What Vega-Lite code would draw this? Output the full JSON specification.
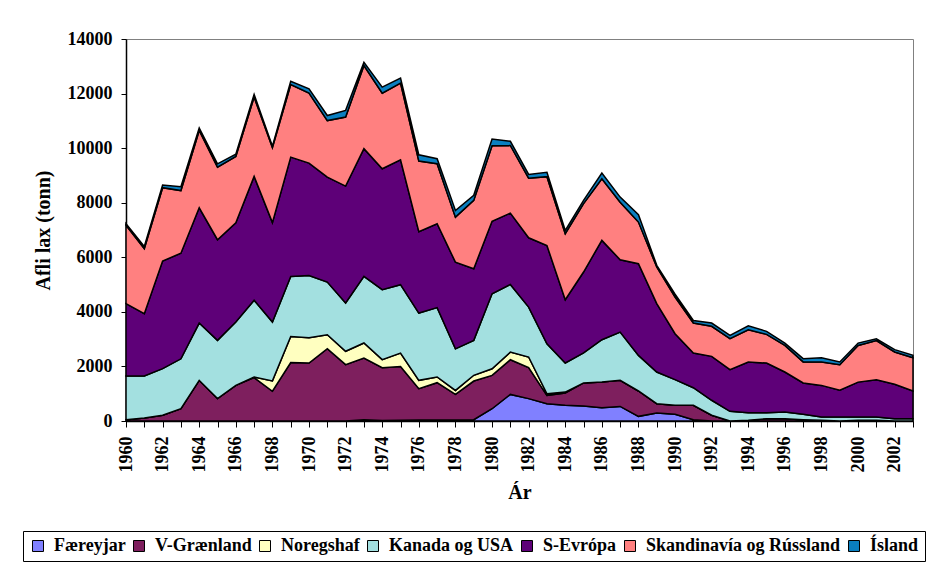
{
  "$schema": "https://vega.github.io/schema/vega-lite/v6.json",
  "width": 787,
  "height": 382,
  "autosize": "none",
  "padding": {"left": 126, "top": 39, "right": 17, "bottom": 143},
  "background": "white",
  "config": {
    "font": "Liberation Serif",
    "view": {"stroke": "#808080", "strokeWidth": 1},
    "axis": {
      "labelFont": "Liberation Serif",
      "labelFontWeight": "bold",
      "labelFontSize": 18,
      "labelColor": "black",
      "titleFont": "Liberation Serif",
      "titleFontWeight": "bold",
      "titleFontSize": 20,
      "titleColor": "black",
      "domainColor": "black",
      "domainWidth": 1.5,
      "tickColor": "black",
      "tickWidth": 1,
      "grid": false
    },
    "legend": {
      "labelFont": "Liberation Serif",
      "labelFontWeight": "bold",
      "labelFontSize": 18,
      "labelColor": "black",
      "labelLimit": 400
    }
  },
  "datasets": {
    "rank": [
      {"series": "Færeyjar", "rank": 1},
      {"series": "V-Grænland", "rank": 2},
      {"series": "Noregshaf", "rank": 3},
      {"series": "Kanada og USA", "rank": 4},
      {"series": "S-Evrópa", "rank": 5},
      {"series": "Skandinavía og Rússland", "rank": 6},
      {"series": "Ísland", "rank": 7}
    ]
  },
  "data": {"values": [
    {"year":1960,"series":"Færeyjar","value":0},{"year":1960,"series":"V-Grænland","value":50},{"year":1960,"series":"Noregshaf","value":0},{"year":1960,"series":"Kanada og USA","value":1600},{"year":1960,"series":"S-Evrópa","value":2650},{"year":1960,"series":"Skandinavía og Rússland","value":2870},{"year":1960,"series":"Ísland","value":60},
    {"year":1961,"series":"Færeyjar","value":0},{"year":1961,"series":"V-Grænland","value":110},{"year":1961,"series":"Noregshaf","value":0},{"year":1961,"series":"Kanada og USA","value":1540},{"year":1961,"series":"S-Evrópa","value":2285},{"year":1961,"series":"Skandinavía og Rússland","value":2380},{"year":1961,"series":"Ísland","value":85},
    {"year":1962,"series":"Færeyjar","value":0},{"year":1962,"series":"V-Grænland","value":210},{"year":1962,"series":"Noregshaf","value":0},{"year":1962,"series":"Kanada og USA","value":1710},{"year":1962,"series":"S-Evrópa","value":3945},{"year":1962,"series":"Skandinavía og Rússland","value":2685},{"year":1962,"series":"Ísland","value":100},
    {"year":1963,"series":"Færeyjar","value":0},{"year":1963,"series":"V-Grænland","value":450},{"year":1963,"series":"Noregshaf","value":0},{"year":1963,"series":"Kanada og USA","value":1830},{"year":1963,"series":"S-Evrópa","value":3870},{"year":1963,"series":"Skandinavía og Rússland","value":2295},{"year":1963,"series":"Ísland","value":140},
    {"year":1964,"series":"Færeyjar","value":0},{"year":1964,"series":"V-Grænland","value":1490},{"year":1964,"series":"Noregshaf","value":0},{"year":1964,"series":"Kanada og USA","value":2100},{"year":1964,"series":"S-Evrópa","value":4225},{"year":1964,"series":"Skandinavía og Rússland","value":2835},{"year":1964,"series":"Ísland","value":85},
    {"year":1965,"series":"Færeyjar","value":0},{"year":1965,"series":"V-Grænland","value":820},{"year":1965,"series":"Noregshaf","value":0},{"year":1965,"series":"Kanada og USA","value":2135},{"year":1965,"series":"S-Evrópa","value":3690},{"year":1965,"series":"Skandinavía og Rússland","value":2660},{"year":1965,"series":"Ísland","value":120},
    {"year":1966,"series":"Færeyjar","value":0},{"year":1966,"series":"V-Grænland","value":1305},{"year":1966,"series":"Noregshaf","value":0},{"year":1966,"series":"Kanada og USA","value":2320},{"year":1966,"series":"S-Evrópa","value":3640},{"year":1966,"series":"Skandinavía og Rússland","value":2430},{"year":1966,"series":"Ísland","value":85},
    {"year":1967,"series":"Færeyjar","value":0},{"year":1967,"series":"V-Grænland","value":1590},{"year":1967,"series":"Noregshaf","value":25},{"year":1967,"series":"Kanada og USA","value":2810},{"year":1967,"series":"S-Evrópa","value":4540},{"year":1967,"series":"Skandinavía og Rússland","value":2905},{"year":1967,"series":"Ísland","value":100},
    {"year":1968,"series":"Færeyjar","value":0},{"year":1968,"series":"V-Grænland","value":1090},{"year":1968,"series":"Noregshaf","value":380},{"year":1968,"series":"Kanada og USA","value":2160},{"year":1968,"series":"S-Evrópa","value":3640},{"year":1968,"series":"Skandinavía og Rússland","value":2750},{"year":1968,"series":"Ísland","value":50},
    {"year":1969,"series":"Færeyjar","value":0},{"year":1969,"series":"V-Grænland","value":2140},{"year":1969,"series":"Noregshaf","value":960},{"year":1969,"series":"Kanada og USA","value":2200},{"year":1969,"series":"S-Evrópa","value":4370},{"year":1969,"series":"Skandinavía og Rússland","value":2660},{"year":1969,"series":"Ísland","value":120},
    {"year":1970,"series":"Færeyjar","value":0},{"year":1970,"series":"V-Grænland","value":2125},{"year":1970,"series":"Noregshaf","value":925},{"year":1970,"series":"Kanada og USA","value":2285},{"year":1970,"series":"S-Evrópa","value":4115},{"year":1970,"series":"Skandinavía og Rússland","value":2565},{"year":1970,"series":"Ísland","value":160},
    {"year":1971,"series":"Færeyjar","value":0},{"year":1971,"series":"V-Grænland","value":2650},{"year":1971,"series":"Noregshaf","value":510},{"year":1971,"series":"Kanada og USA","value":1930},{"year":1971,"series":"S-Evrópa","value":3845},{"year":1971,"series":"Skandinavía og Rússland","value":2075},{"year":1971,"series":"Ísland","value":185},
    {"year":1972,"series":"Færeyjar","value":0},{"year":1972,"series":"V-Grænland","value":2065},{"year":1972,"series":"Noregshaf","value":490},{"year":1972,"series":"Kanada og USA","value":1770},{"year":1972,"series":"S-Evrópa","value":4285},{"year":1972,"series":"Skandinavía og Rússland","value":2530},{"year":1972,"series":"Ísland","value":245},
    {"year":1973,"series":"Færeyjar","value":50},{"year":1973,"series":"V-Grænland","value":2260},{"year":1973,"series":"Noregshaf","value":550},{"year":1973,"series":"Kanada og USA","value":2440},{"year":1973,"series":"S-Evrópa","value":4680},{"year":1973,"series":"Skandinavía og Rússland","value":3050},{"year":1973,"series":"Ísland","value":120},
    {"year":1974,"series":"Færeyjar","value":20},{"year":1974,"series":"V-Grænland","value":1935},{"year":1974,"series":"Noregshaf","value":295},{"year":1974,"series":"Kanada og USA","value":2565},{"year":1974,"series":"S-Evrópa","value":4430},{"year":1974,"series":"Skandinavía og Rússland","value":2770},{"year":1974,"series":"Ísland","value":220},
    {"year":1975,"series":"Færeyjar","value":30},{"year":1975,"series":"V-Grænland","value":1970},{"year":1975,"series":"Noregshaf","value":490},{"year":1975,"series":"Kanada og USA","value":2505},{"year":1975,"series":"S-Evrópa","value":4580},{"year":1975,"series":"Skandinavía og Rússland","value":2810},{"year":1975,"series":"Ísland","value":180},
    {"year":1976,"series":"Færeyjar","value":40},{"year":1976,"series":"V-Grænland","value":1145},{"year":1976,"series":"Noregshaf","value":305},{"year":1976,"series":"Kanada og USA","value":2465},{"year":1976,"series":"S-Evrópa","value":2980},{"year":1976,"series":"Skandinavía og Rússland","value":2590},{"year":1976,"series":"Ísland","value":230},
    {"year":1977,"series":"Færeyjar","value":40},{"year":1977,"series":"V-Grænland","value":1365},{"year":1977,"series":"Noregshaf","value":210},{"year":1977,"series":"Kanada og USA","value":2540},{"year":1977,"series":"S-Evrópa","value":3075},{"year":1977,"series":"Skandinavía og Rússland","value":2200},{"year":1977,"series":"Ísland","value":185},
    {"year":1978,"series":"Færeyjar","value":40},{"year":1978,"series":"V-Grænland","value":935},{"year":1978,"series":"Noregshaf","value":145},{"year":1978,"series":"Kanada og USA","value":1525},{"year":1978,"series":"S-Evrópa","value":3175},{"year":1978,"series":"Skandinavía og Rússland","value":1650},{"year":1978,"series":"Ísland","value":245},
    {"year":1979,"series":"Færeyjar","value":50},{"year":1979,"series":"V-Grænland","value":1415},{"year":1979,"series":"Noregshaf","value":210},{"year":1979,"series":"Kanada og USA","value":1280},{"year":1979,"series":"S-Evrópa","value":2625},{"year":1979,"series":"Skandinavía og Rússland","value":2505},{"year":1979,"series":"Ísland","value":185},
    {"year":1980,"series":"Færeyjar","value":450},{"year":1980,"series":"V-Grænland","value":1220},{"year":1980,"series":"Noregshaf","value":245},{"year":1980,"series":"Kanada og USA","value":2745},{"year":1980,"series":"S-Evrópa","value":2660},{"year":1980,"series":"Skandinavía og Rússland","value":2770},{"year":1980,"series":"Ísland","value":245},
    {"year":1981,"series":"Færeyjar","value":975},{"year":1981,"series":"V-Grænland","value":1270},{"year":1981,"series":"Noregshaf","value":280},{"year":1981,"series":"Kanada og USA","value":2480},{"year":1981,"series":"S-Evrópa","value":2615},{"year":1981,"series":"Skandinavía og Rússland","value":2480},{"year":1981,"series":"Ísland","value":150},
    {"year":1982,"series":"Færeyjar","value":820},{"year":1982,"series":"V-Grænland","value":1135},{"year":1982,"series":"Noregshaf","value":390},{"year":1982,"series":"Kanada og USA","value":1830},{"year":1982,"series":"S-Evrópa","value":2540},{"year":1982,"series":"Skandinavía og Rússland","value":2185},{"year":1982,"series":"Ísland","value":135},
    {"year":1983,"series":"Færeyjar","value":635},{"year":1983,"series":"V-Grænland","value":305},{"year":1983,"series":"Noregshaf","value":60},{"year":1983,"series":"Kanada og USA","value":1830},{"year":1983,"series":"S-Evrópa","value":3600},{"year":1983,"series":"Skandinavía og Rússland","value":2525},{"year":1983,"series":"Ísland","value":160},
    {"year":1984,"series":"Færeyjar","value":575},{"year":1984,"series":"V-Grænland","value":450},{"year":1984,"series":"Noregshaf","value":35},{"year":1984,"series":"Kanada og USA","value":1065},{"year":1984,"series":"S-Evrópa","value":2320},{"year":1984,"series":"Skandinavía og Rússland","value":2420},{"year":1984,"series":"Ísland","value":120},
    {"year":1985,"series":"Færeyjar","value":550},{"year":1985,"series":"V-Grænland","value":845},{"year":1985,"series":"Noregshaf","value":0},{"year":1985,"series":"Kanada og USA","value":1100},{"year":1985,"series":"S-Evrópa","value":2965},{"year":1985,"series":"Skandinavía og Rússland","value":2505},{"year":1985,"series":"Ísland","value":120},
    {"year":1986,"series":"Færeyjar","value":490},{"year":1986,"series":"V-Grænland","value":940},{"year":1986,"series":"Noregshaf","value":0},{"year":1986,"series":"Kanada og USA","value":1550},{"year":1986,"series":"S-Evrópa","value":3640},{"year":1986,"series":"Skandinavía og Rússland","value":2260},{"year":1986,"series":"Ísland","value":205},
    {"year":1987,"series":"Færeyjar","value":535},{"year":1987,"series":"V-Grænland","value":955},{"year":1987,"series":"Noregshaf","value":0},{"year":1987,"series":"Kanada og USA","value":1770},{"year":1987,"series":"S-Evrópa","value":2650},{"year":1987,"series":"Skandinavía og Rússland","value":2110},{"year":1987,"series":"Ísland","value":185},
    {"year":1988,"series":"Færeyjar","value":170},{"year":1988,"series":"V-Grænland","value":930},{"year":1988,"series":"Noregshaf","value":0},{"year":1988,"series":"Kanada og USA","value":1305},{"year":1988,"series":"S-Evrópa","value":3360},{"year":1988,"series":"Skandinavía og Rússland","value":1525},{"year":1988,"series":"Ísland","value":270},
    {"year":1989,"series":"Færeyjar","value":295},{"year":1989,"series":"V-Grænland","value":340},{"year":1989,"series":"Noregshaf","value":0},{"year":1989,"series":"Kanada og USA","value":1160},{"year":1989,"series":"S-Evrópa","value":2505},{"year":1989,"series":"Skandinavía og Rússland","value":1345},{"year":1989,"series":"Ísland","value":60},
    {"year":1990,"series":"Færeyjar","value":245},{"year":1990,"series":"V-Grænland","value":330},{"year":1990,"series":"Noregshaf","value":0},{"year":1990,"series":"Kanada og USA","value":940},{"year":1990,"series":"S-Evrópa","value":1685},{"year":1990,"series":"Skandinavía og Rússland","value":1345},{"year":1990,"series":"Ísland","value":100},
    {"year":1991,"series":"Færeyjar","value":50},{"year":1991,"series":"V-Grænland","value":525},{"year":1991,"series":"Noregshaf","value":0},{"year":1991,"series":"Kanada og USA","value":645},{"year":1991,"series":"S-Evrópa","value":1270},{"year":1991,"series":"Skandinavía og Rússland","value":1100},{"year":1991,"series":"Ísland","value":95},
    {"year":1992,"series":"Færeyjar","value":0},{"year":1992,"series":"V-Grænland","value":210},{"year":1992,"series":"Noregshaf","value":0},{"year":1992,"series":"Kanada og USA","value":550},{"year":1992,"series":"S-Evrópa","value":1610},{"year":1992,"series":"Skandinavía og Rússland","value":1100},{"year":1992,"series":"Ísland","value":120},
    {"year":1993,"series":"Færeyjar","value":0},{"year":1993,"series":"V-Grænland","value":0},{"year":1993,"series":"Noregshaf","value":0},{"year":1993,"series":"Kanada og USA","value":355},{"year":1993,"series":"S-Evrópa","value":1525},{"year":1993,"series":"Skandinavía og Rússland","value":1135},{"year":1993,"series":"Ísland","value":120},
    {"year":1994,"series":"Færeyjar","value":0},{"year":1994,"series":"V-Grænland","value":25},{"year":1994,"series":"Noregshaf","value":0},{"year":1994,"series":"Kanada og USA","value":280},{"year":1994,"series":"S-Evrópa","value":1855},{"year":1994,"series":"Skandinavía og Rússland","value":1185},{"year":1994,"series":"Ísland","value":145},
    {"year":1995,"series":"Færeyjar","value":0},{"year":1995,"series":"V-Grænland","value":85},{"year":1995,"series":"Noregshaf","value":0},{"year":1995,"series":"Kanada og USA","value":220},{"year":1995,"series":"S-Evrópa","value":1820},{"year":1995,"series":"Skandinavía og Rússland","value":1050},{"year":1995,"series":"Ísland","value":110},
    {"year":1996,"series":"Færeyjar","value":0},{"year":1996,"series":"V-Grænland","value":85},{"year":1996,"series":"Noregshaf","value":0},{"year":1996,"series":"Kanada og USA","value":245},{"year":1996,"series":"S-Evrópa","value":1465},{"year":1996,"series":"Skandinavía og Rússland","value":975},{"year":1996,"series":"Ísland","value":85},
    {"year":1997,"series":"Færeyjar","value":0},{"year":1997,"series":"V-Grænland","value":50},{"year":1997,"series":"Noregshaf","value":0},{"year":1997,"series":"Kanada og USA","value":195},{"year":1997,"series":"S-Evrópa","value":1150},{"year":1997,"series":"Skandinavía og Rússland","value":770},{"year":1997,"series":"Ísland","value":120},
    {"year":1998,"series":"Færeyjar","value":0},{"year":1998,"series":"V-Grænland","value":25},{"year":1998,"series":"Noregshaf","value":0},{"year":1998,"series":"Kanada og USA","value":120},{"year":1998,"series":"S-Evrópa","value":1160},{"year":1998,"series":"Skandinavía og Rússland","value":855},{"year":1998,"series":"Ísland","value":160},
    {"year":1999,"series":"Færeyjar","value":0},{"year":1999,"series":"V-Grænland","value":0},{"year":1999,"series":"Noregshaf","value":0},{"year":1999,"series":"Kanada og USA","value":150},{"year":1999,"series":"S-Evrópa","value":975},{"year":1999,"series":"Skandinavía og Rússland","value":940},{"year":1999,"series":"Ísland","value":100},
    {"year":2000,"series":"Færeyjar","value":0},{"year":2000,"series":"V-Grænland","value":25},{"year":2000,"series":"Noregshaf","value":0},{"year":2000,"series":"Kanada og USA","value":120},{"year":2000,"series":"S-Evrópa","value":1280},{"year":2000,"series":"Skandinavía og Rússland","value":1345},{"year":2000,"series":"Ísland","value":85},
    {"year":2001,"series":"Færeyjar","value":0},{"year":2001,"series":"V-Grænland","value":25},{"year":2001,"series":"Noregshaf","value":0},{"year":2001,"series":"Kanada og USA","value":120},{"year":2001,"series":"S-Evrópa","value":1365},{"year":2001,"series":"Skandinavía og Rússland","value":1440},{"year":2001,"series":"Ísland","value":60},
    {"year":2002,"series":"Færeyjar","value":0},{"year":2002,"series":"V-Grænland","value":0},{"year":2002,"series":"Noregshaf","value":0},{"year":2002,"series":"Kanada og USA","value":85},{"year":2002,"series":"S-Evrópa","value":1260},{"year":2002,"series":"Skandinavía og Rússland","value":1185},{"year":2002,"series":"Ísland","value":85},
    {"year":2003,"series":"Færeyjar","value":0},{"year":2003,"series":"V-Grænland","value":0},{"year":2003,"series":"Noregshaf","value":0},{"year":2003,"series":"Kanada og USA","value":85},{"year":2003,"series":"S-Evrópa","value":1015},{"year":2003,"series":"Skandinavía og Rússland","value":1220},{"year":2003,"series":"Ísland","value":85}
  ]},
  "transform": [
    {"lookup": "series", "from": {"data": {"name": "rank"}, "key": "series", "fields": ["rank"]}}
  ],
  "mark": {"type": "area", "interpolate": "linear", "stroke": "black", "strokeWidth": 1.5, "strokeJoin": "miter", "opacity": 1},
  "encoding": {
    "x": {
      "field": "year",
      "type": "quantitative",
      "scale": {"domain": [1960, 2003], "nice": false, "zero": false},
      "axis": {
        "title": "Ár",
        "values": [1960,1961,1962,1963,1964,1965,1966,1967,1968,1969,1970,1971,1972,1973,1974,1975,1976,1977,1978,1979,1980,1981,1982,1983,1984,1985,1986,1987,1988,1989,1990,1991,1992,1993,1994,1995,1996,1997,1998,1999,2000,2001,2002,2003],
        "labelExpr": "datum.value % 2 == 0 && datum.value < 2003 ? format(datum.value, 'd') : ''",
        "labelAngle": -90,
        "labelAlign": "right",
        "labelBaseline": "middle",
        "labelPadding": 9,
        "labelOverlap": false,
        "labelFlush": false,
        "tickSize": 6,
        "titlePadding": 10
      }
    },
    "y": {
      "field": "value",
      "type": "quantitative",
      "aggregate": "sum",
      "stack": "zero",
      "scale": {"domain": [0, 14000], "nice": false},
      "axis": {
        "title": "Afli lax (tonn)",
        "values": [0, 2000, 4000, 6000, 8000, 10000, 12000, 14000],
        "format": "d",
        "tickSize": 5,
        "labelPadding": 9,
        "titlePadding": 14
      }
    },
    "color": {
      "field": "series",
      "type": "nominal",
      "scale": {
        "domain": ["Færeyjar", "V-Grænland", "Noregshaf", "Kanada og USA", "S-Evrópa", "Skandinavía og Rússland", "Ísland"],
        "range": ["#8080FF", "#7E1F5E", "#FFFFC0", "#A3E0E0", "#5E0078", "#FF8080", "#0A7FC0"]
      },
      "legend": {
        "title": null,
        "orient": "none",
        "direction": "horizontal",
        "columns": 7,
        "legendX": -103,
        "legendY": 492,
        "padding": 6,
        "strokeColor": "black",
        "fillColor": "white",
        "symbolType": "square",
        "symbolSize": 121,
        "symbolStrokeColor": "black",
        "symbolStrokeWidth": 1,
        "symbolOpacity": 1,
        "labelOffset": 7,
        "columnPadding": 4,
        "labelLimit": 400,
        "encode": {
          "symbols": {
            "update": {
              "shape": {"value": "square"},
              "size": {"value": 121},
              "stroke": {"value": "black"},
              "strokeWidth": {"value": 1},
              "opacity": {"value": 1}
            }
          }
        }
      }
    },
    "order": {"field": "rank", "type": "quantitative", "sort": "ascending"}
  }
}
